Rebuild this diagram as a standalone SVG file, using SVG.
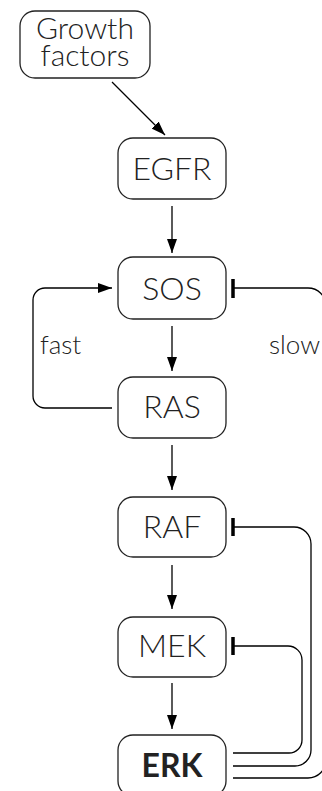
<svg xmlns="http://www.w3.org/2000/svg" width="322" height="791" viewBox="0 0 322 791">
<defs>
<marker id="arr" markerUnits="userSpaceOnUse" markerWidth="14" markerHeight="10" refX="14" refY="5" orient="auto" viewBox="0 0 14 10">
<path d="M0,0 L14,5 L0,10 z" fill="#000"/>
</marker>
<style>
.box{fill:#fff;stroke:#222;stroke-width:1.3}
.lbl{font-family:Lato,"Liberation Sans",sans-serif;font-weight:300;font-size:32px;fill:#222;text-anchor:middle}
.gf{font-size:30px}
.edge{fill:none;stroke:#000;stroke-width:1.3}
.act{marker-end:url(#arr)}
.bar{stroke:#000;stroke-width:3.5}
.note{font-family:Lato,"Liberation Sans",sans-serif;font-weight:300;font-size:26px;fill:#222}
</style>
</defs>
<rect width="322" height="791" fill="#fff"/>
<g id="connectors">
<path class="edge act" d="M112,82 L165,135"/>
<path class="edge act" d="M172,206 V253"/>
<path class="edge act" d="M172,326 V371"/>
<path class="edge act" d="M172,445 V490"/>
<path class="edge act" d="M172,565 V609"/>
<path class="edge act" d="M172,683 V729"/>
<path class="edge act" d="M112,408 H45 A12,12 0 0 1 33,396 V300 A12,12 0 0 1 45,288 H112"/>
<path class="edge" d="M233,288 H308 A18,18 0 0 1 326,306 V760 A18,18 0 0 1 308,778 H233"/>
<line class="bar" x1="233" y1="279" x2="233" y2="298"/>
<path class="edge" d="M233,527 H294 A17,17 0 0 1 311,544 V750 A16,16 0 0 1 295,766 H233"/>
<line class="bar" x1="233" y1="518" x2="233" y2="536"/>
<path class="edge" d="M233,646 H288 A14,14 0 0 1 302,660 V740 A13,13 0 0 1 289,753 H233"/>
<line class="bar" x1="233" y1="637" x2="233" y2="655"/>
<text class="note" x="40" y="354">fast</text>
<text class="note" x="269" y="354">slow</text>
</g>
<g id="growth">
<rect class="box" x="20" y="11" width="130" height="67" rx="15"/>
<text class="lbl gf" x="85" y="39">Growth</text>
<text class="lbl gf" x="85" y="66">factors</text>
</g>
<g id="egfr">
<rect class="box" x="118" y="138" width="108" height="61" rx="15"/>
<text class="lbl" x="172" y="180">EGFR</text>
</g>
<g id="sos">
<rect class="box" x="118" y="257" width="108" height="62" rx="15"/>
<text class="lbl" x="172" y="300">SOS</text>
</g>
<g id="ras">
<rect class="box" x="118" y="377" width="108" height="61" rx="15"/>
<text class="lbl" x="172" y="418">RAS</text>
</g>
<g id="raf">
<rect class="box" x="118" y="497" width="108" height="60" rx="15"/>
<text class="lbl" x="172" y="538">RAF</text>
</g>
<g id="mek">
<rect class="box" x="118" y="617" width="108" height="60" rx="15"/>
<text class="lbl" x="172" y="657">MEK</text>
</g>
<g id="erk">
<rect class="box" x="118" y="735" width="108" height="61" rx="15"/>
<text class="lbl" style="font-weight:700" x="172" y="777">ERK</text>
</g>
</svg>
